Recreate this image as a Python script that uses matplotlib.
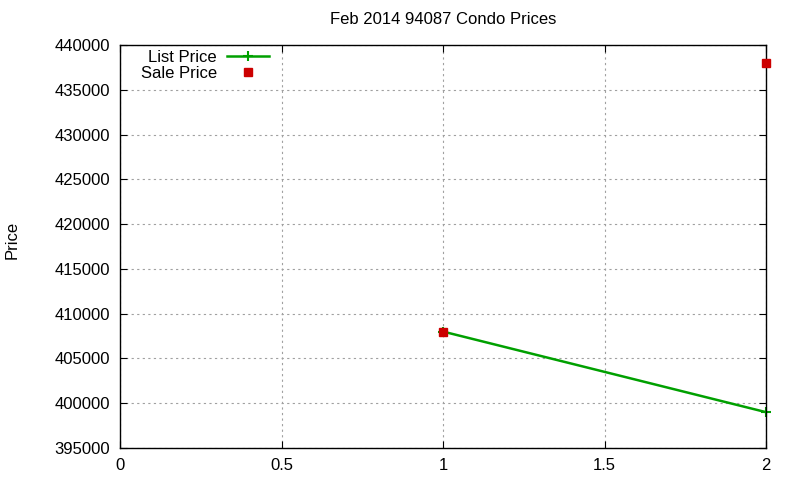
import matplotlib
matplotlib.use("Agg")
import matplotlib.pyplot as plt

plt.rcParams['font.family'] = ['Liberation Sans', 'DejaVu Sans']

list_x = [1, 2]
list_price = [408000, 399000]
sale_x = [1, 2]
sale_price = [408000, 438000]

fig = plt.figure(figsize=(8, 4.8), dpi=100)
ax = fig.add_axes([0.15, 0.0667, 0.8075, 0.8396])

ax.plot(list_x, list_price, color='#00a000', linewidth=1.8, marker='+',
        markersize=7, markeredgewidth=1.5, label='List Price', clip_on=False)
ax.plot(sale_x, sale_price, linestyle='none', marker='s', color='#cc0000',
        markersize=6, label='Sale Price', clip_on=False, zorder=3)

ax.set_xlim(0, 2)
ax.set_ylim(395000, 440000)
ax.set_xticks([0, 0.5, 1, 1.5, 2])
ax.set_xticklabels(['0', '0.5', '1', '1.5', '2'])
ax.set_yticks(range(395000, 440001, 5000))
ax.tick_params(direction='in', top=True, right=True, labelsize=12, length=5, pad=7)
ax.grid(True, color='#a0a0a0', linestyle=(0, (2, 3)), linewidth=0.8)
for s in ax.spines.values():
    s.set_linewidth(1.0)

fig.text(12 / 800, 0.5, 'Price', rotation=90, fontsize=12, ha='center', va='center')
ax.set_title('Feb 2014 94087 Condo Prices', fontsize=12, pad=15)

leg = ax.legend(loc='upper left', bbox_to_anchor=(0.017, 1.012), frameon=False,
                fontsize=12, markerfirst=False, handlelength=2.5,
                borderaxespad=0.2, labelspacing=0.05, handletextpad=0.6)
for t in leg.get_texts():
    t.set_ha('right')

plt.savefig('out.png', dpi=100)
